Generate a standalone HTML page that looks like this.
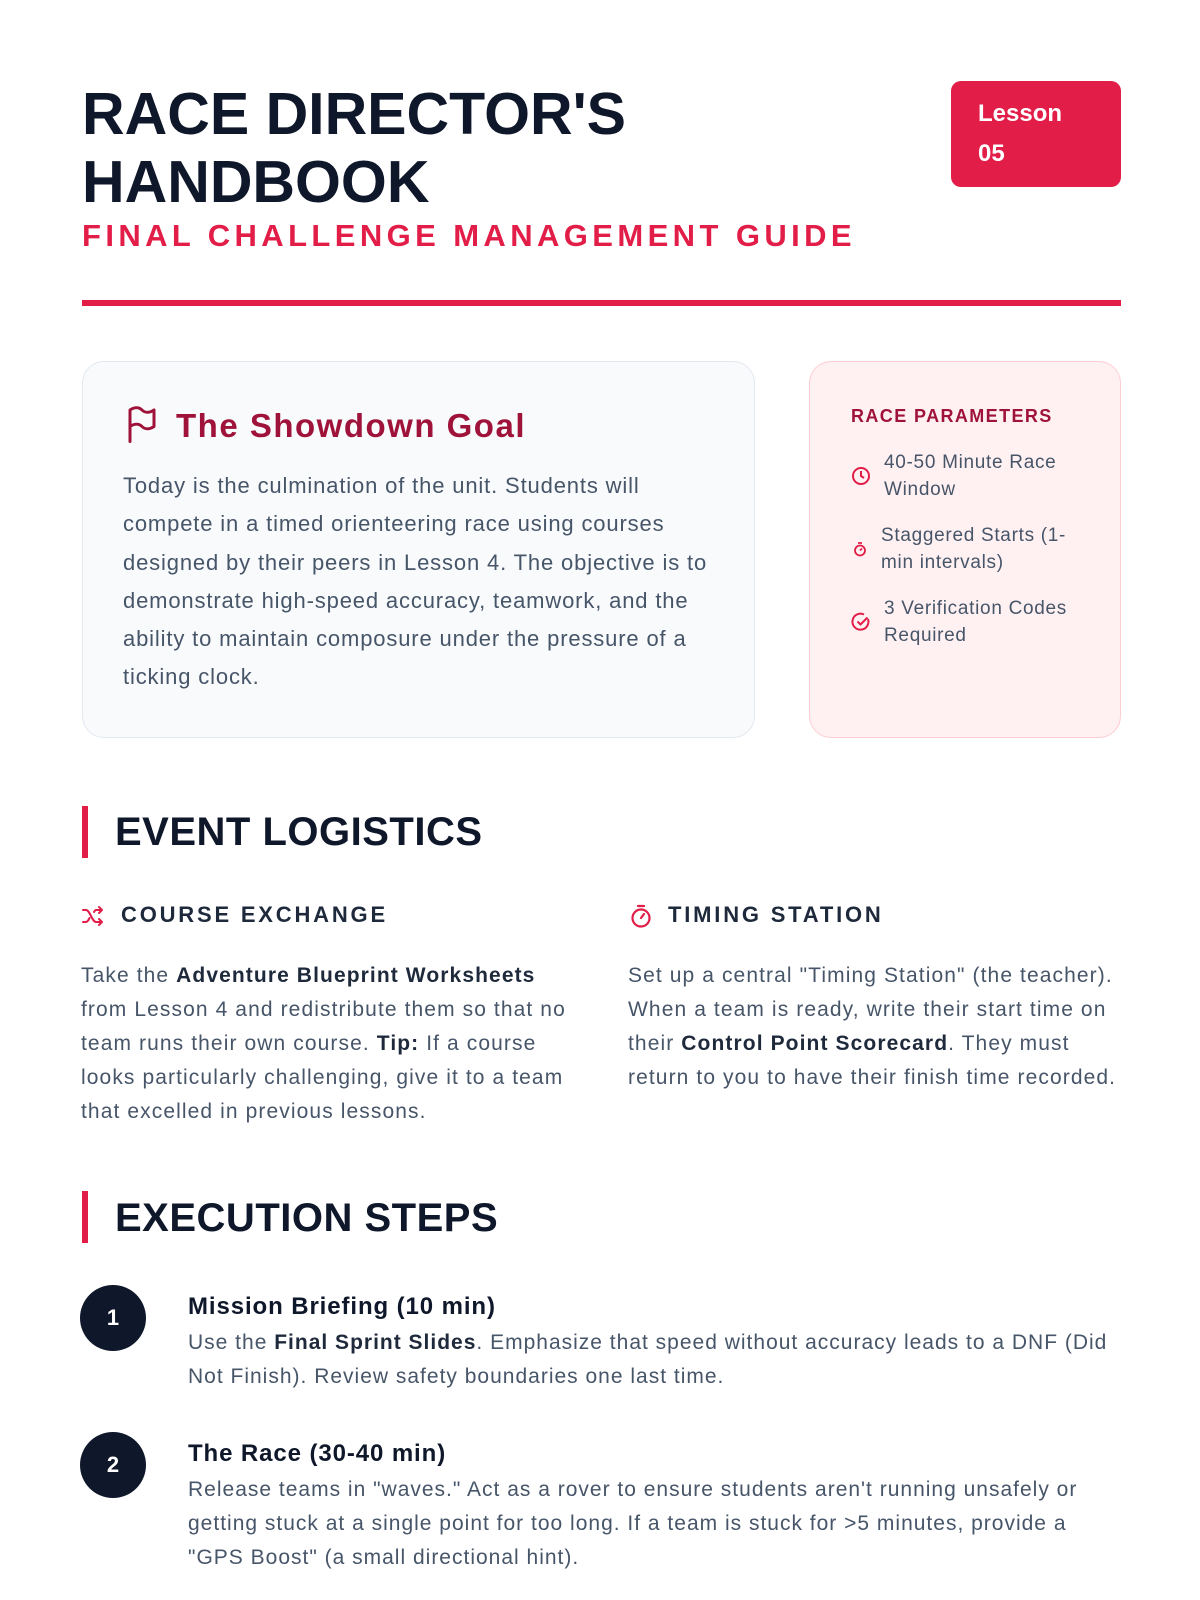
<!DOCTYPE html>
<html><head><meta charset="utf-8"><style>
*{margin:0;padding:0;box-sizing:border-box}
body{width:1200px;height:1600px;background:#fff;position:relative;font-family:"Liberation Sans",sans-serif;color:#475569;overflow:hidden}
.a{position:absolute;white-space:nowrap}
.h1{font-weight:bold;color:#0f172a;font-size:59px;line-height:68px}
.sec{font-weight:bold;color:#0f172a;font-size:40px;letter-spacing:0.5px}
.bar{width:6px;height:52px;background:#e11d48}
.sub{font-weight:bold;color:#1e293b;font-size:22px;letter-spacing:2.8px}
.body{font-size:21px;line-height:34px;color:#475569;letter-spacing:1.1px}
b{color:#1e293b}
.circ{width:66px;height:66px;border-radius:50%;background:#0f172a;color:#fff;font-weight:bold;font-size:22px;text-align:center;line-height:66px}
</style></head><body>
<div class="a h1" style="left:82px;top:80px">RACE DIRECTOR'S<br>HANDBOOK</div>
<div class="a" style="left:82px;top:218px;font-size:31px;font-weight:bold;color:#e11d48;letter-spacing:4.4px">FINAL CHALLENGE MANAGEMENT GUIDE</div>
<div class="a" style="left:951px;top:81px;width:170px;height:106px;background:#e11d48;border-radius:10px;color:#fff;font-weight:bold;font-size:24px;line-height:40px;padding:13px 27px">Lesson<br>05</div>
<div class="a" style="left:82px;top:300px;width:1039px;height:6px;background:#e11d48"></div>

<div class="a" style="left:82px;top:361px;width:673px;height:377px;background:#f8fafc;border:1px solid #e2e8f0;border-radius:22px"></div>
<svg class="a" style="left:124px;top:405px" width="36" height="40" viewBox="0 0 24 26" fill="none" stroke="#9f1239" stroke-width="2" stroke-linecap="round" stroke-linejoin="round"><path d="M4 24V3c3-2 6-2 8 0s5 2 8 0v11c-3 2-6 2-8 0s-5-2-8 0"/></svg>
<div class="a" style="left:176px;top:407px;font-size:33px;font-weight:bold;color:#9f1239;letter-spacing:1.5px">The Showdown Goal</div>
<div class="a body" style="left:123px;top:467px;font-size:22px;line-height:38.3px;letter-spacing:0.85px">Today is the culmination of the unit. Students will<br>compete in a timed orienteering race using courses<br>designed by their peers in Lesson 4. The objective is to<br>demonstrate high-speed accuracy, teamwork, and the<br>ability to maintain composure under the pressure of a<br>ticking clock.</div>

<div class="a" style="left:809px;top:361px;width:312px;height:377px;background:#fff1f2;border:1.5px solid #fecdd3;border-radius:22px"></div>
<div class="a" style="left:851px;top:406px;font-size:18px;font-weight:bold;color:#9f1239;letter-spacing:1.4px">RACE PARAMETERS</div>
<svg class="a" style="left:851px;top:466px" width="20" height="20" viewBox="0 0 20 20" fill="none" stroke="#e11d48" stroke-width="2"><circle cx="10" cy="10" r="8"/><path d="M10 5v5l3 2"/></svg>
<div class="a body" style="left:884px;top:449px;font-size:19px;line-height:27px;letter-spacing:0.7px">40-50 Minute Race<br>Window</div>
<svg class="a" style="left:852px;top:541px" width="16" height="16" viewBox="0 0 16 16" fill="none" stroke="#e11d48" stroke-width="1.8"><circle cx="8" cy="9.5" r="5"/><path d="M6 2h4M8 9.5l2-2"/></svg>
<div class="a body" style="left:881px;top:522px;font-size:19px;line-height:27px;letter-spacing:0.7px">Staggered Starts (1-<br>min intervals)</div>
<svg class="a" style="left:851px;top:612px" width="20" height="20" viewBox="0 0 20 20" fill="none" stroke="#e11d48" stroke-width="2"><path d="M17 7A8 8 0 1 1 13 2.5"/><path d="M6.5 9.5l3 3 7-7"/></svg>
<div class="a body" style="left:884px;top:595px;font-size:19px;line-height:27px;letter-spacing:0.7px">3 Verification Codes<br>Required</div>

<div class="a bar" style="left:82px;top:806px"></div>
<div class="a sec" style="left:115px;top:810px">EVENT LOGISTICS</div>

<svg class="a" style="left:81px;top:904px" width="24" height="24" viewBox="0 0 24 24" fill="none" stroke="#e11d48" stroke-width="2" stroke-linecap="round" stroke-linejoin="round"><path d="M2 6h3c4 0 6 12 10 12h6M18 15l3 3-3 3M2 18h3c1.5 0 2.5-2 3.5-4M13 8c.7-1.2 1.5-2 2-2h6M18 3l3 3-3 3"/></svg>
<div class="a sub" style="left:121px;top:902px">COURSE EXCHANGE</div>
<div class="a body" style="left:81px;top:959px">Take the <b>Adventure Blueprint Worksheets</b><br>from Lesson 4 and redistribute them so that no<br>team runs their own course. <b>Tip:</b> If a course<br>looks particularly challenging, give it to a team<br>that excelled in previous lessons.</div>

<svg class="a" style="left:629px;top:903px" width="24" height="26" viewBox="0 0 24 26" fill="none" stroke="#e11d48" stroke-width="2.2" stroke-linecap="round"><circle cx="12" cy="15" r="8.5"/><path d="M9 3h6M12 15l3-4"/></svg>
<div class="a sub" style="left:668px;top:902px">TIMING STATION</div>
<div class="a body" style="left:628px;top:959px">Set up a central "Timing Station" (the teacher).<br>When a team is ready, write their start time on<br>their <b>Control Point Scorecard</b>. They must<br>return to you to have their finish time recorded.</div>

<div class="a bar" style="left:82px;top:1191px"></div>
<div class="a sec" style="left:115px;top:1196px">EXECUTION STEPS</div>

<div class="a circ" style="left:80px;top:1285px">1</div>
<div class="a" style="left:188px;top:1293px;font-size:24px;font-weight:bold;color:#0f172a;letter-spacing:0.9px">Mission Briefing (10 min)</div>
<div class="a body" style="left:188px;top:1326px;letter-spacing:1px">Use the <b>Final Sprint Slides</b>. Emphasize that speed without accuracy leads to a DNF (Did<br>Not Finish). Review safety boundaries one last time.</div>

<div class="a circ" style="left:80px;top:1432px">2</div>
<div class="a" style="left:188px;top:1440px;font-size:24px;font-weight:bold;color:#0f172a;letter-spacing:0.9px">The Race (30-40 min)</div>
<div class="a body" style="left:188px;top:1473px;letter-spacing:1px">Release teams in "waves." Act as a rover to ensure students aren't running unsafely or<br>getting stuck at a single point for too long. If a team is stuck for &gt;5 minutes, provide a<br>"GPS Boost" (a small directional hint).</div>
</body></html>
